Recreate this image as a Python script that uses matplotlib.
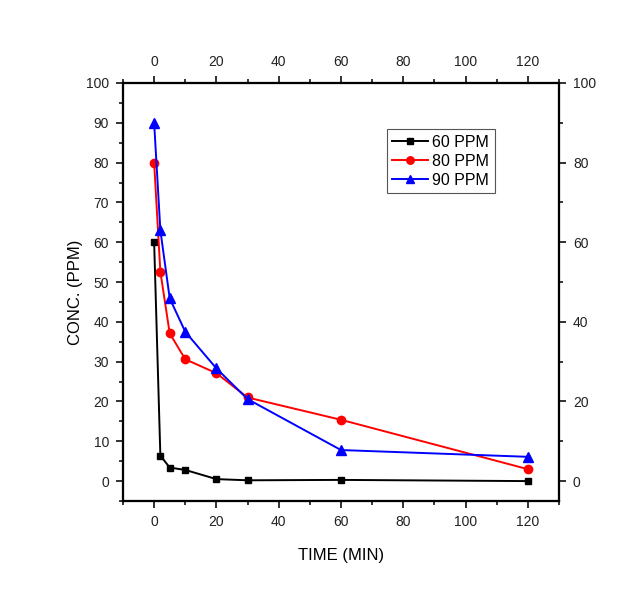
import matplotlib
matplotlib.use("Agg")
import matplotlib.pyplot as plt
from matplotlib.ticker import MultipleLocator

plt.rcParams['font.family'] = ['Liberation Sans', 'DejaVu Sans']

# time points (min)
time = [0, 2, 5, 10, 20, 30, 60, 120]

# concentration (ppm)
conc_60 = [60, 6.4, 3.4, 2.8, 0.5, 0.2, 0.3, 0]
conc_80 = [80, 52.6, 37.1, 30.6, 27.1, 21.0, 15.4, 3.0]
conc_90 = [90, 63.0, 45.9, 37.5, 28.3, 20.6, 7.8, 6.1]

series = [
    ("60 PPM", conc_60, "black", "s", 5),
    ("80 PPM", conc_80, "red", "o", 6),
    ("90 PPM", conc_90, "blue", "^", 6.5),
]

fig = plt.figure(figsize=(6.33, 5.89), dpi=100)
ax = fig.add_axes([0.1943, 0.1494, 0.6888, 0.7097])

for label, y, c, m, ms in series:
    ax.plot(time, y, color=c, marker=m, markersize=ms, linewidth=1.4, label=label)

ax.set_xlim(-10, 130)
ax.set_ylim(-5, 100)
ax.xaxis.set_major_locator(MultipleLocator(20))
ax.xaxis.set_minor_locator(MultipleLocator(10))
ax.yaxis.set_major_locator(MultipleLocator(10))
ax.yaxis.set_minor_locator(MultipleLocator(5))

ax.set_xlabel("TIME (MIN)", fontsize=12, labelpad=14)
ax.set_ylabel("CONC. (PPM)", fontsize=12, labelpad=2)

# right and top axes mirror the main scale
axr = ax.twinx()
axr.set_ylim(-5, 100)
axr.yaxis.set_major_locator(MultipleLocator(20))
axr.yaxis.set_minor_locator(MultipleLocator(10))
axt = ax.twiny()
axt.set_xlim(-10, 130)
axt.xaxis.set_major_locator(MultipleLocator(20))
axt.xaxis.set_minor_locator(MultipleLocator(10))

for a in (ax, axr, axt):
    for s in a.spines.values():
        s.set_linewidth(1.5)
    a.tick_params(which="major", direction="out", length=5, width=1.3,
                  labelsize=10, colors="#222222", pad=5)
    a.tick_params(which="minor", direction="out", length=3, width=1.1)

axr.set_yticks([0, 20, 40, 60, 80, 100])

leg = ax.legend(loc="upper left", bbox_to_anchor=(0.605, 0.89), fontsize=11.5,
                fancybox=False, framealpha=1, edgecolor="#555555",
                handlelength=2.2, borderpad=0.35, labelspacing=0.25,
                handletextpad=0.3, borderaxespad=0, markerscale=0.9)
leg.get_frame().set_linewidth(0.8)

fig.savefig("out.png", dpi=100, facecolor="white")
